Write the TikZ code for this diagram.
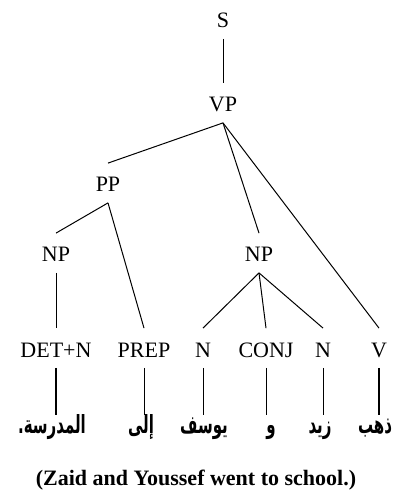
\documentclass[tikz,border=0pt]{standalone}
\usepackage{fontspec}
\setmainfont{Liberation Serif}
\newfontfamily\arabicfont[Script=Arabic,FakeStretch=0.6]{DejaVu Sans}
\TeXXeTstate=1
\usetikzlibrary{calc}

\begin{document}
\begin{tikzpicture}[x=0.5pt,y=-0.5pt,
    cat/.style={font=\fontsize{11}{13}\selectfont,text height=9pt,text depth=0pt,inner xsep=2pt,inner ysep=5.25pt,anchor=base},
    word/.style={font=\arabicfont\bfseries\fontsize{12.5}{14}\selectfont,text height=9pt,text depth=3pt,inner sep=0pt,anchor=base},
    branch/.style={black,line width=0.5pt},
    stem/.style={black,line width=1.1pt}]
  \useasboundingbox (0,0) rectangle (392,490);
  % phrase level
  \node[cat] (s) at (223,28) {S};
  \node[cat] (vp) at (223,112) {VP};
  \node[cat] (pp) at (108,192) {PP};
  \node[cat] (npl) at (56,262) {NP};
  \node[cat] (npr) at (259,262) {NP};
  % word classes
  \foreach \n/\x/\lab in {det/56/DET+N,prep/144/PREP,na/203/N,conj/266/CONJ,nb/323/N,v/379/V}{
    \node[cat] (\n) at (\x,357) {\lab};}
  % arabic words
  \node[word] (wdet) at (52,433) {\beginR المدرسة.\endR};
  \node[word] (wprep) at (141,433) {\beginR إلى\endR};
  \node[word] (wna) at (204,433) {\beginR يوسف\endR};
  \node[word] (wconj) at (271,433) {\beginR و\endR};
  \node[word] (wnb) at (320,433) {\beginR زيد\endR};
  \node[word] (wv) at (375,433) {\beginR ذهب\endR};
  \node[font=\fontsize{11}{13}\selectfont\bfseries,anchor=base] (gloss) at (196,485) {(Zaid and Youssef went to school.)};
  \draw[branch] (s.south) -- (vp.north);
  \draw[branch] (vp.south) -- (pp.north);
  \draw[branch] (vp.south) -- (npr.north);
  \draw[branch] (vp.south) -- (v.north);
  \draw[branch] (pp.south) -- (npl.north);
  \draw[branch] (pp.south) -- (prep.north);
  \draw[branch] (npl.south) -- (det.north);
  \foreach \n in {na,conj,nb}
    \draw[branch] (npr.south) -- (\n.north);
  \draw[stem] (det.south) -- (det.south |- wdet.north);
  \foreach \n in {prep,na,conj,nb}
    \draw[branch] (\n.south) -- (\n.south |- w\n.north);
  \draw[stem] (v.south) -- (v.south |- wv.north);
\end{tikzpicture}
\end{document}
